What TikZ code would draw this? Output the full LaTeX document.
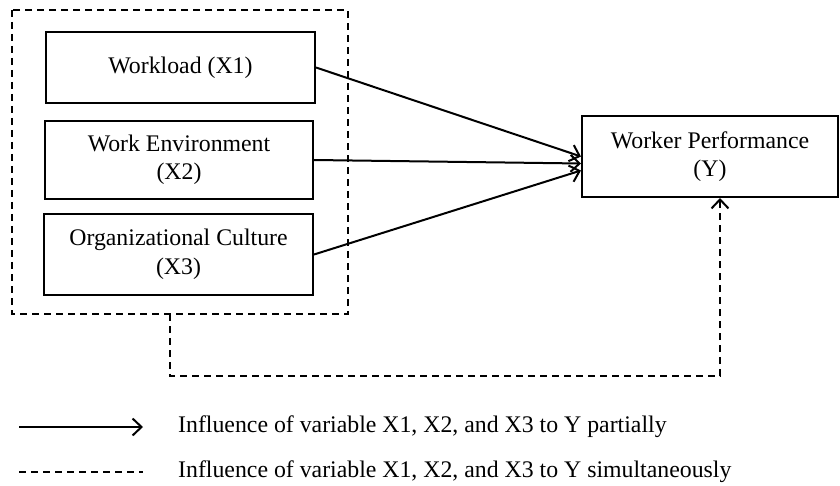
\documentclass[tikz,border=0pt]{standalone}
\usepackage{fontspec}
\setmainfont{Liberation Serif}
\usetikzlibrary{arrows.meta}

\tikzset{
  varbox/.style={draw, line width=2pt, align=center, inner sep=2pt,
    font=\fontsize{23.8}{28.5}\selectfont},
  arrow/.style={line width=2pt, -{Straight Barb[length=9pt,width=17pt,line width=2pt]}},
  dashline/.style={line width=2pt, dash pattern=on 7pt off 5pt},
  legtext/.style={anchor=west, inner sep=0pt, font=\fontsize{23.8}{28}\selectfont}
}

\begin{document}
\begin{tikzpicture}[x=1pt,y=-1pt]

\useasboundingbox (0,0) rectangle (840,486);

% group of independent variables
\draw [dashline] (12,10) rectangle (348,314);

\node (work) at (180.5,67.5) [varbox, minimum width=269pt, minimum height=71pt] {Workload (X1)};
\node (env) at (179,160) [varbox, minimum width=268pt, minimum height=78pt] {Work Environment\\(X2)};
\node (cult) at (178.5,254.5) [varbox, minimum width=269pt, minimum height=81pt] {Organizational Culture\\(X3)};

\node (perf) at (710,156.5) [varbox, minimum width=256pt, minimum height=81pt] {Worker Performance\\(Y)};

% partial influence
\draw [arrow] (work.east) -- (perf.west);
\draw [arrow] (env.east) -- ([yshift=-7pt]perf.west);
\draw [arrow] (cult.east) -- ([yshift=-14pt]perf.west);

% simultaneous influence
\coordinate (drop) at (170,314);
\coordinate (turn) at (720,376);
\draw [dashline, arrow] (drop) |- (turn) -- (perf.south -| turn);

% legend
\coordinate (solA) at (19,427);
\coordinate (solB) at (143,427);
\coordinate (dasA) at (19,472);
\coordinate (dasB) at (143,472);
\draw [arrow] (solA) -- (solB);
\draw [dashline] (dasA) -- (dasB);
\node (legsol) at (178,427) [legtext] {Influence of variable X1, X2, and X3 to Y partially};
\node (legdas) at (178,472) [legtext] {Influence of variable X1, X2, and X3 to Y simultaneously};

\end{tikzpicture}
\end{document}
